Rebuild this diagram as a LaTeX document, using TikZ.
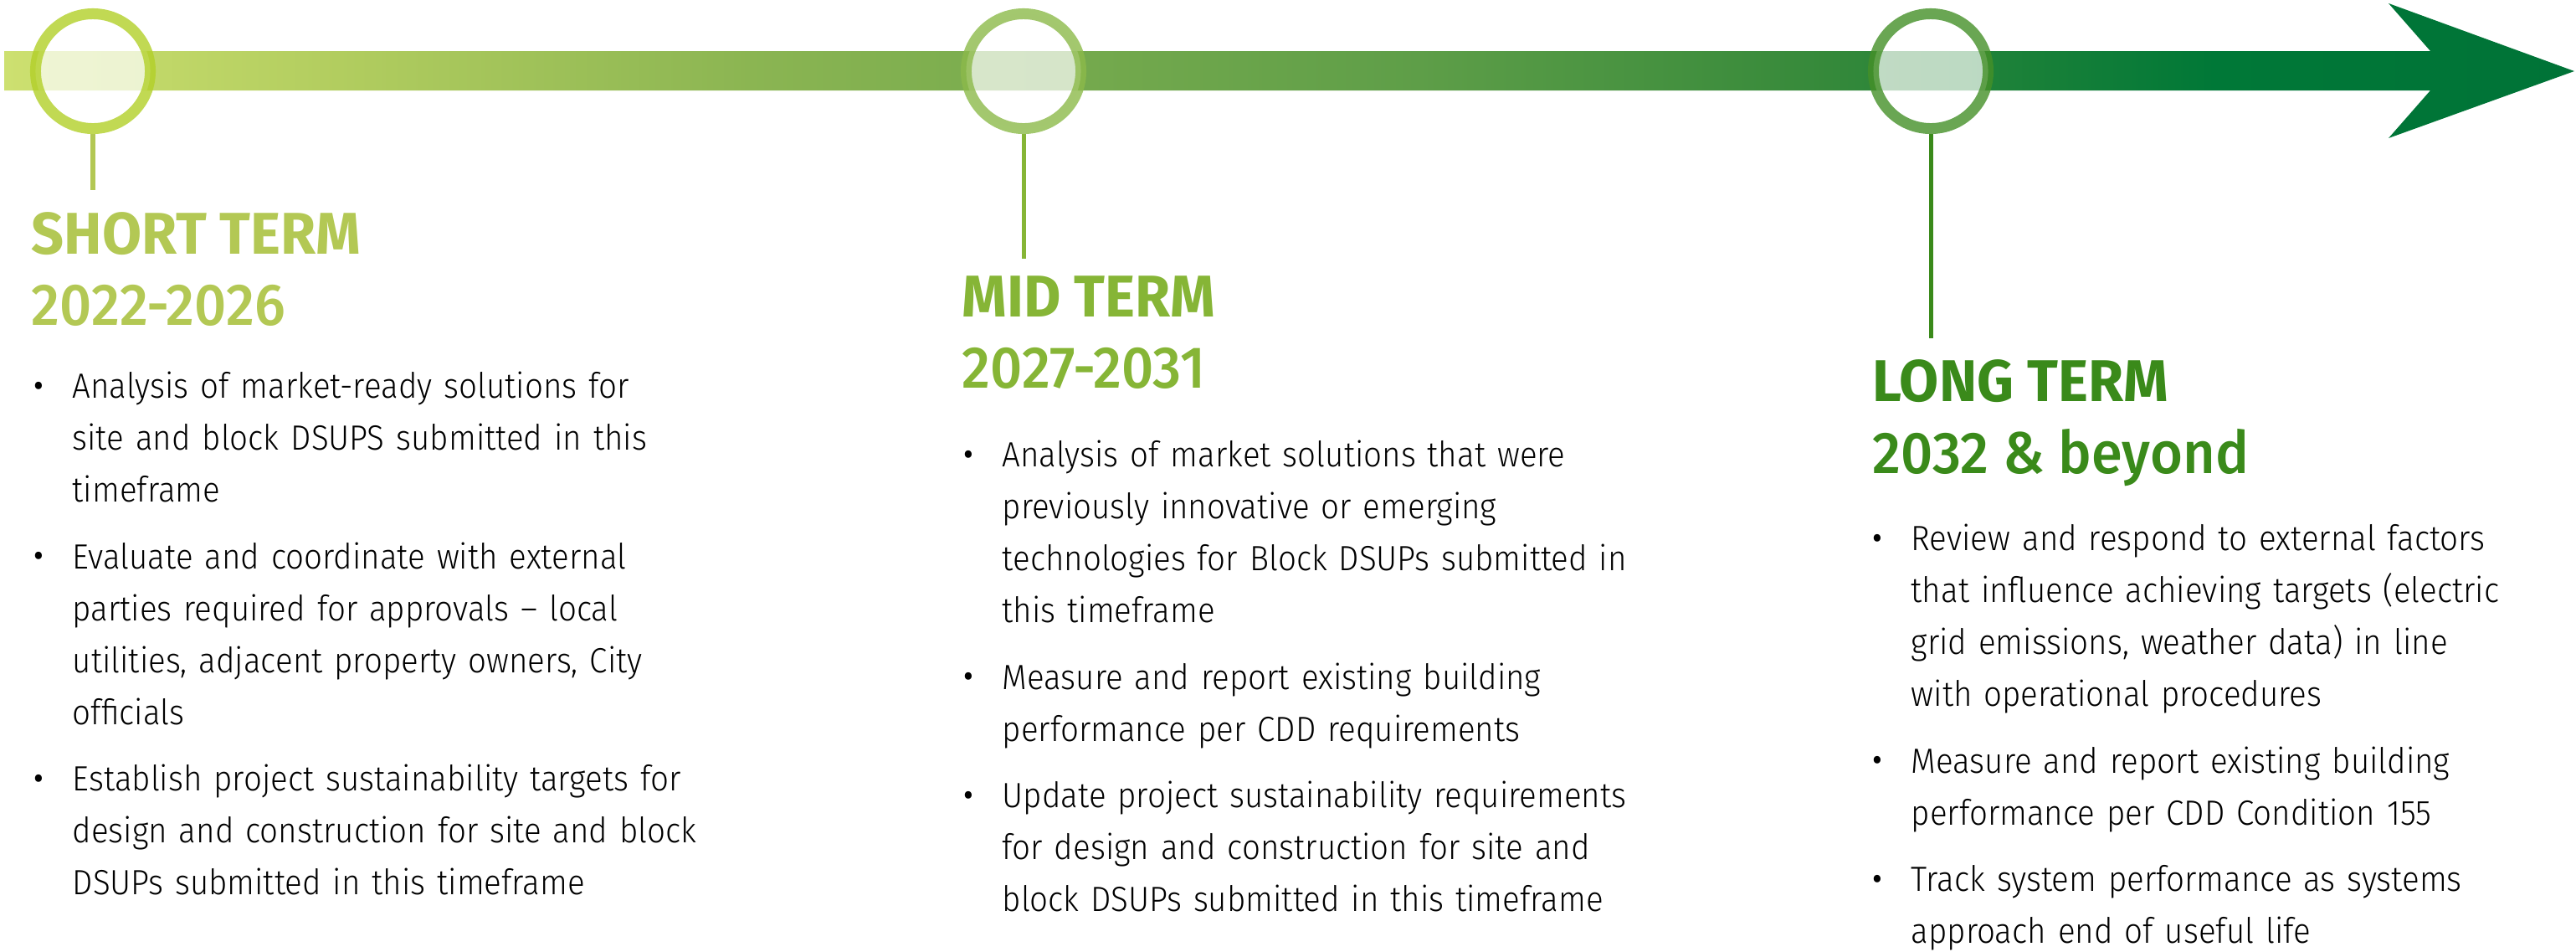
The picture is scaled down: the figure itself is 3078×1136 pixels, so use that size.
\documentclass[tikz,border=0pt]{standalone}
\usepackage{fontspec}
\IfFontExistsTF{Fira Sans Light}
  {\newfontfamily\bodyfont{Fira Sans Light}[FakeStretch=0.92]}
  {\newfontfamily\bodyfont{Fira Sans}[FakeStretch=0.9]}
\newfontfamily\headfont{Fira Sans}[FakeStretch=0.97, UprightFont=*, BoldFont=* Bold]
\IfFontExistsTF{Fira Sans Medium}
  {\newfontfamily\yearfont{Fira Sans Medium}[FakeStretch=0.95]}
  {\newfontfamily\yearfont{Fira Sans}[FakeStretch=0.97, FakeBold=2.5]}
\usetikzlibrary{positioning}

\definecolor{barA}{RGB}{205,224,112}
\definecolor{barB}{RGB}{178,205,95}
\definecolor{barC}{RGB}{139,181,82}
\definecolor{barD}{RGB}{94,158,72}
\definecolor{barE}{RGB}{53,137,58}
\definecolor{barF}{RGB}{0,120,55}
\definecolor{barG}{RGB}{0,115,55}
\definecolor{shortgreen}{RGB}{179,200,84}
\definecolor{midgreen}{RGB}{134,181,54}
\definecolor{longgreen}{RGB}{58,138,26}
\definecolor{ringshort}{RGB}{178,208,40}
\definecolor{ringmid}{RGB}{140,186,74}
\definecolor{ringlong}{RGB}{69,144,40}

\pgfdeclarehorizontalshading{timebar}{100bp}{color(0bp)=(barA); color(25bp)=(barA);
  color(31.5bp)=(barB); color(39.5bp)=(barC); color(52.5bp)=(barD);
  color(60.5bp)=(barE); color(68bp)=(barF); color(75bp)=(barG); color(100bp)=(barG)}

\newcommand{\pointmark}{\makebox[0.48cm][l]{\raisebox{-1.6pt}{\fontsize{17}{17}\selectfont\textbullet}}}

\tikzset{
  milestone/.style={circle, draw, line width=0.13cm, minimum size=1.37cm, inner sep=0,
    fill=white, fill opacity=0.7, draw opacity=0.8},
  stem/.style={line width=0.05cm},
  termhead/.style={anchor=base west, inner sep=0, font=\headfont\bfseries\fontsize{20}{24}\selectfont},
  termyear/.style={anchor=base west, inner sep=0, font=\yearfont\fontsize{20}{24}\selectfont},
  point/.style={anchor=north west, inner sep=0, text width=8cm,
    font=\bodyfont\fontsize{11.9}{17.64}\selectfont,
    execute at begin node={\leftskip=0.48cm\parindent=0pt\leavevmode\llap{\pointmark}\strut},
    execute at end node=\strut}
}

\begin{document}
\begin{tikzpicture}[x=0.01cm, y=-0.01cm]
	\useasboundingbox (0,0) rectangle (3078,1136);

	% timeline arrow
	\shade[shading=timebar] (5,61) -- (2904,61) -- (2854,4) -- (3076,85) -- (2854,165) -- (2904,108) -- (5,108) -- cycle;

	\node[milestone, draw=ringshort] (short) at (111,85) {};
	\node[milestone, draw=ringmid] (mid) at (1223,85) {};
	\node[milestone, draw=ringlong] (long) at (2307,85) {};

	\coordinate (shortend) at (111,227);
	\coordinate (midend) at (1223,309);
	\coordinate (longend) at (2307,404);
	\draw[stem, shortgreen] (short) -- (shortend);
	\draw[stem, midgreen] (mid) -- (midend);
	\draw[stem, longgreen] (long) -- (longend);

	% short term
	\node[termhead, text=shortgreen] (shorthd) at (37,303) {SHORT TERM};
	\node[termyear, text=shortgreen] (shortyr) at (37,388) {2022-2026};
	\node[point] (s1) at (38,431.5) {Analysis of market-ready solutions for\\site and block DSUPS submitted in this\\timeframe};
	\node[point, below=0.16cm of s1.south west, anchor=north west] (s2) {Evaluate and coordinate with external\\parties required for approvals – local\\utilities, adjacent property owners, City\\officials};
	\node[point, below=0.16cm of s2.south west, anchor=north west] (s3) {Establish project sustainability targets for\\design and construction for site and block\\DSUPs submitted in this timeframe};

	% mid term
	\node[termhead, text=midgreen] (midhd) at (1149,378) {MID TERM};
	\node[termyear, text=midgreen] (midyr) at (1149,463) {2027-2031};
	\node[point] (m1) at (1149,513.5) {Analysis of market solutions that were\\previously innovative or emerging\\technologies for Block DSUPs submitted in\\this timeframe};
	\node[point, below=0.16cm of m1.south west, anchor=north west] (m2) {Measure and report existing building\\performance per CDD requirements};
	\node[point, below=0.16cm of m2.south west, anchor=north west] (m3) {Update project sustainability requirements\\for design and construction for site and\\block DSUPs submitted in this timeframe};

	% long term
	\node[termhead, text=longgreen] (longhd) at (2237,479) {LONG TERM};
	\node[termyear, text=longgreen] (longyr) at (2237,565) {2032 \& beyond};
	\node[point] (l1) at (2235,613.5) {Review and respond to external factors\\that influence achieving targets (electric\\grid emissions, weather data) in line\\with operational procedures};
	\node[point, below=0.16cm of l1.south west, anchor=north west] (l2) {Measure and report existing building\\performance per CDD Condition 155};
	\node[point, below=0.16cm of l2.south west, anchor=north west] (l3) {Track system performance as systems\\approach end of useful life};
\end{tikzpicture}
\end{document}
